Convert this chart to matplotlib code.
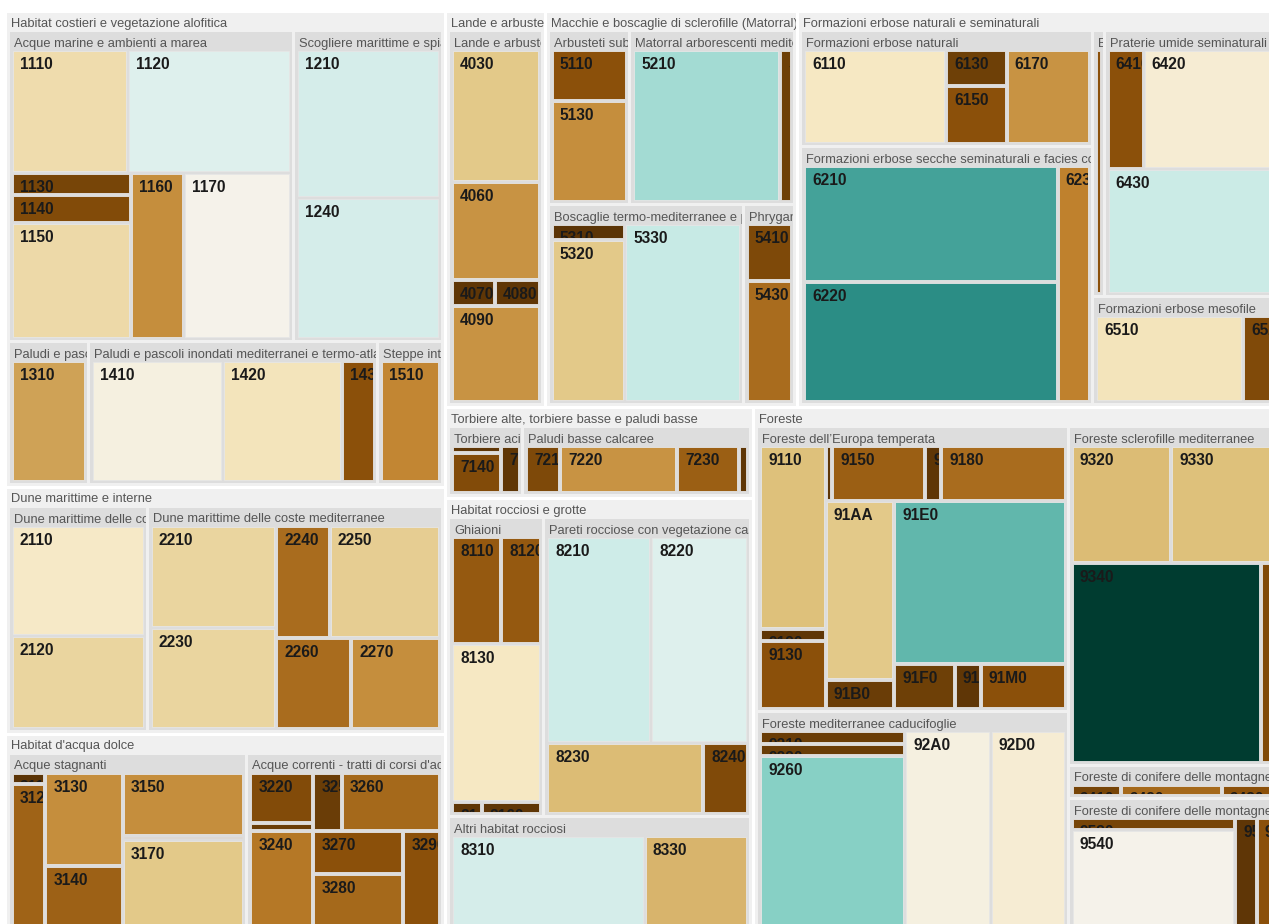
import matplotlib.pyplot as plt
from matplotlib.patches import Rectangle
from matplotlib.transforms import Bbox, TransformedBbox

W, H = 1269, 924

GROUP_NAMES = {
    "1": "Habitat costieri e vegetazione alofitica",
    "2": "Dune marittime e interne",
    "3": "Habitat d'acqua dolce",
    "4": "Lande e arbusteti temperati",
    "5": "Macchie e boscaglie di sclerofille (Matorral)",
    "6": "Formazioni erbose naturali e seminaturali",
    "7": "Torbiere alte, torbiere basse e paludi basse",
    "8": "Habitat rocciosi e grotte",
    "9": "Foreste",
}

SUBGROUP_NAMES = {
    "11": "Acque marine e ambienti a marea",
    "12": "Scogliere marittime e spiagge ghiaiose",
    "13": "Paludi e pascoli inondati atlantici e continentali",
    "14": "Paludi e pascoli inondati mediterranei e termo-atlantici",
    "15": "Steppe interne alofile e gipsacee",
    "21": "Dune marittime delle coste atlantiche, del Mare del Nord e del Baltico",
    "22": "Dune marittime delle coste mediterranee",
    "31": "Acque stagnanti",
    "32": "Acque correnti - tratti di corsi d'acqua a dinamica naturale o seminaturale",
    "40": "Lande e arbusteti temperati",
    "51": "Arbusteti submediterranei e temperati",
    "52": "Matorral arborescenti mediterranei",
    "53": "Boscaglie termo-mediterranee e pre-steppiche",
    "54": "Phrygane",
    "61": "Formazioni erbose naturali",
    "62": "Formazioni erbose secche seminaturali e facies coperte da cespugli",
    "63": "Boschi di sclerofille utilizzati come terreni di pascolo (dehesas)",
    "64": "Praterie umide seminaturali con piante erbacee alte",
    "65": "Formazioni erbose mesofile",
    "71": "Torbiere acide di sfagni",
    "72": "Paludi basse calcaree",
    "81": "Ghiaioni",
    "82": "Pareti rocciose con vegetazione casmofitica",
    "83": "Altri habitat rocciosi",
    "91": "Foreste dell\u2019Europa temperata",
    "92": "Foreste mediterranee caducifoglie",
    "93": "Foreste sclerofille mediterranee",
    "94": "Foreste di conifere delle montagne temperate",
    "95": "Foreste di conifere delle montagne mediterranee e macaronesiche",
}

CODES = [
    "1110", "1120", "1130", "1140", "1150", "1160", "1170", "1210", "1240",
    "1310", "1410", "1420", "1430", "1510",
    "2110", "2120", "2210", "2230", "2240", "2250", "2260", "2270",
    "3110", "3120", "3130", "3140", "3150", "3160", "3170",
    "3220", "3230", "3240", "3250", "3260", "3270", "3280", "3290",
    "4030", "4060", "4070", "4080", "4090",
    "5110", "5130", "5210", "5230", "5310", "5320", "5330", "5410", "5430",
    "6110", "6130", "6150", "6170", "6210", "6220", "6230", "6310",
    "6410", "6420", "6430", "6510", "6520",
    "7110", "7140", "7150", "7210", "7220", "7230", "7240",
    "8110", "8120", "8130", "8140", "8160", "8210", "8220", "8230", "8240",
    "8310", "8330",
    "9110", "9120", "9130", "9140", "9150", "9160", "9180", "91AA", "91B0",
    "91E0", "91F0", "91L0", "91M0",
    "9210", "9220", "9260", "92A0", "92D0",
    "9320", "9330", "9340", "9380",
    "9410", "9420", "9430",
    "9530", "9540", "9560", "9580",
]

# surface of each habitat
AREA = [
    16676, 23260, 3072, 3980, 16198, 10175, 20857, 25224, 24198,
    12151, 20085, 18343, 5195, 9812,
    18867, 15938, 16166, 15911, 7548, 15590, 8589, 10192,
    495, 6481, 9620, 6724, 10258, 517, 14749,
    4254, 648, 8406, 2241, 7641, 5192, 6857, 4897,
    14797, 10968, 1425, 1495, 10768,
    5179, 10245, 28830, 2396, 1404, 15044, 25892, 3563, 7564,
    17967, 2969, 4740, 10550, 35046, 36529, 9155, 3306,
    5140, 27442, 34167, 17470, 11029,
    684, 4260, 1859, 3233, 11110, 5877, 853,
    6505, 5238, 17472, 426, 866, 25578, 23763, 13319, 3820,
    24690, 13235,
    13892, 874, 5206, 422, 5847, 1028, 7853, 14336, 2343,
    32593, 3180, 1371, 4492,
    2195, 2195, 30210, 20354, 17944,
    13319, 22020, 43657, 17259,
    1765, 3616, 4088,
    2604, 21164, 3112, 11567,
]

# position of each habitat on the brown-green colour scale (0..1)
SCORE = [
    0.37, 0.55, 0.065, 0.085, 0.36, 0.22, 0.48, 0.57, 0.57,
    0.25, 0.46, 0.39, 0.10, 0.21,
    0.41, 0.35, 0.35, 0.35, 0.16, 0.33, 0.16, 0.22,
    0.015, 0.14, 0.22, 0.135, 0.22, 0.10, 0.32,
    0.085, 0.04, 0.18, 0.04, 0.15, 0.10, 0.15, 0.10,
    0.32, 0.23, 0.02, 0.02, 0.23,
    0.10, 0.22, 0.65, 0.05, 0.015, 0.32, 0.60, 0.075, 0.16,
    0.40, 0.05, 0.10, 0.23, 0.78, 0.82, 0.20, 0.10,
    0.10, 0.43, 0.59, 0.39, 0.08,
    0.02, 0.085, 0.02, 0.075, 0.23, 0.13, 0.02,
    0.12, 0.12, 0.40, 0.02, 0.02, 0.585, 0.55, 0.29, 0.08,
    0.57, 0.28,
    0.30, 0.02, 0.10, 0.02, 0.13, 0.02, 0.16, 0.32, 0.04,
    0.74, 0.05, 0.02, 0.10,
    0.04, 0.04, 0.69, 0.46, 0.43,
    0.29, 0.30, 1.0, 0.08,
    0.065, 0.15, 0.10,
    0.065, 0.48, 0.02, 0.10,
]

PAD_TOP = 19
PAD_OUTER = 3
PAD_INNER = 3
PHI = (1 + 5 ** 0.5) / 2
ROOT_BOX = (4, -6, 1343, 938)   # the treemap is larger than the visible window


def build_tree():
    root = {"name": "", "children": []}
    groups, subs = {}, {}
    for code, area, score in zip(CODES, AREA, SCORE):
        g, s = code[0], code[:2]
        if g not in groups:
            groups[g] = {"name": GROUP_NAMES[g], "children": []}
            root["children"].append(groups[g])
        if s not in subs:
            subs[s] = {"name": SUBGROUP_NAMES[s], "children": []}
            groups[g]["children"].append(subs[s])
        subs[s]["children"].append({"name": code, "value": area, "score": score})
    return root


def sum_values(node):
    if "children" in node:
        node["value"] = sum(sum_values(k) for k in node["children"])
    return node["value"]


def squarify(kids, x0, y0, x1, y1):
    # same rule as d3.treemapSquarify (golden ratio), nodes kept in code order
    value = sum(k["value"] for k in kids)
    i0 = i1 = 0
    n = len(kids)
    while i0 < n:
        dx, dy = x1 - x0, y1 - y0
        s = kids[i1]["value"]
        i1 += 1
        lo = hi = s
        alpha = max(dy / dx, dx / dy) / (value * PHI)
        beta = s * s * alpha
        best = max(hi / beta, beta / lo)
        while i1 < n:
            v = kids[i1]["value"]
            lo2, hi2 = min(lo, v), max(hi, v)
            beta = (s + v) ** 2 * alpha
            ratio = max(hi2 / beta, beta / lo2)
            if ratio > best:
                break
            s += v
            lo, hi, best = lo2, hi2, ratio
            i1 += 1
        row = kids[i0:i1]
        if dx < dy:
            h = dy * s / value
            xx = x0
            for k in row:
                w = dx * k["value"] / s
                k["box"] = (xx, y0, xx + w, y0 + h)
                xx += w
            y0 += h
        else:
            w = dx * s / value
            yy = y0
            for k in row:
                h = dy * k["value"] / s
                k["box"] = (x0, yy, x0 + w, yy + h)
                yy += h
            x0 += w
        value -= s
        i0 = i1


def place(node, x0, y0, x1, y1, p, depth):
    x0, y0, x1, y1 = x0 + p, y0 + p, x1 - p, y1 - p
    if x1 < x0:
        x0 = x1 = (x0 + x1) / 2
    if y1 < y0:
        y0 = y1 = (y0 + y1) / 2
    node["rect"] = (x0, y0, x1, y1)
    node["depth"] = depth
    kids = node.get("children")
    if kids:
        q = PAD_INNER / 2
        a, b = x0 + PAD_OUTER - q, y0 + PAD_TOP - q
        c, d = x1 - PAD_OUTER + q, y1 - PAD_OUTER + q
        if c < a:
            a = c = (a + c) / 2
        if d < b:
            b = d = (b + d) / 2
        squarify(kids, a, b, c, d)
        for k in kids:
            place(k, *k["box"], q, depth + 1)


def walk(node):
    yield node
    for k in node.get("children", []):
        yield from walk(k)


root = build_tree()
sum_values(root)
place(root, *ROOT_BOX, 0, 0)

cmap = plt.get_cmap("BrBG")
plt.rcParams["font.family"] = ["Liberation Sans", "DejaVu Sans"]

fig = plt.figure(figsize=(W / 100, H / 100), dpi=100)
ax = fig.add_axes([0, 0, 1, 1])
ax.set_xlim(0, W)
ax.set_ylim(0, H)
ax.axis("off")


def clip_to(artist, x0, y0, x1, y1):
    artist.set_clip_box(TransformedBbox(Bbox.from_extents(x0, H - y1, x1, H - y0), ax.transData))
    artist.set_clip_on(True)


for node in walk(root):
    if node["depth"] == 0:
        continue
    x0, y0, x1, y1 = node["rect"]
    if "children" in node:
        fill = "#f0f0f0" if node["depth"] == 1 else "#dddddd"
        ax.add_patch(Rectangle((x0, H - y1), x1 - x0, y1 - y0, facecolor=fill,
                               edgecolor="none"))
        base = 13.7 if node["depth"] == 1 else 14.7
        t = ax.text(x0 + 4, H - (y0 + base), node["name"], fontsize=9.3,
                    color="#555555", va="baseline", ha="left")
        clip_to(t, x0, y0, x1, y1)
    else:
        ax.add_patch(Rectangle((x0, H - y1), x1 - x0, y1 - y0,
                               facecolor=cmap(node["score"]), edgecolor="#e6e6e6",
                               linewidth=0.6))
        t = ax.text(x0 + 7, H - (y0 + 18), node["name"], fontsize=11.2,
                    fontweight="bold", color="#1a1a1a", va="baseline", ha="left")
        clip_to(t, x0, y0, x1, y1)

fig.savefig("out.png", dpi=100, facecolor="white")
